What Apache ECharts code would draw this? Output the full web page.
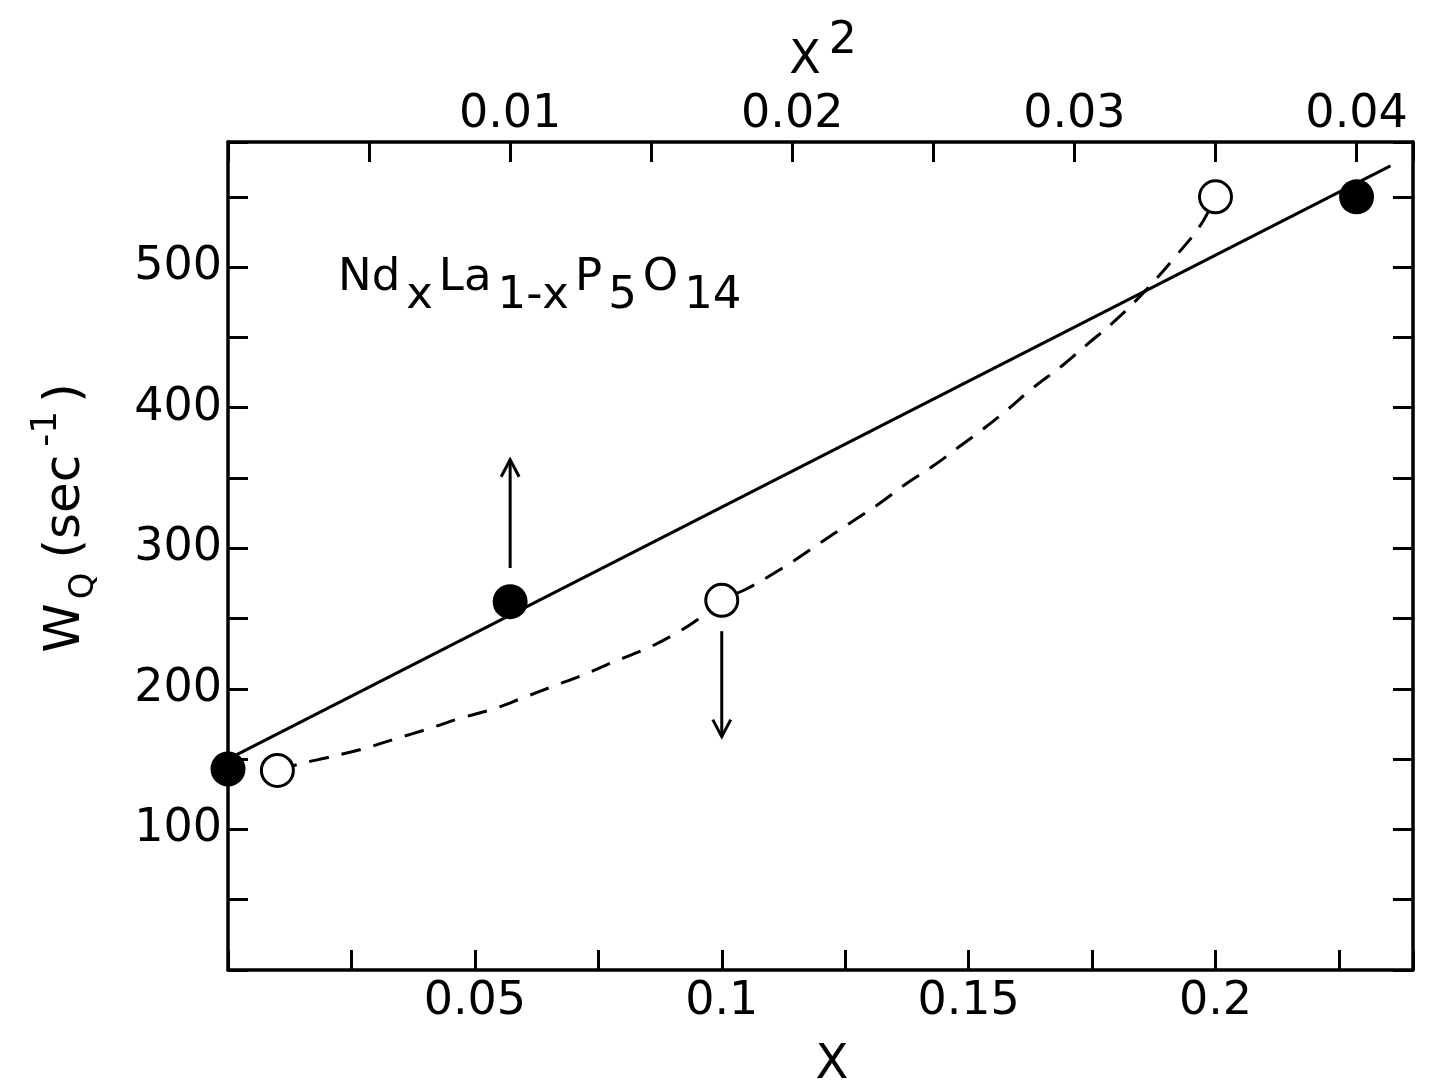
<!DOCTYPE html>
<html>
<head>
<meta charset="utf-8">
<script src="https://cdn.jsdelivr.net/npm/echarts@6/dist/echarts.min.js"></script>
<style>
html, body { margin: 0; padding: 0; background: #fff; }
#chart { width: 1437px; height: 1087px; }
</style>
</head>
<body>
<div id="chart"></div>
<script>
// filled circles: W_Q against x^2 (top axis)
const filledX2 = [0, 0.01, 0.04]
const filledW = [143, 262, 550]
// open circles: W_Q against x (bottom axis)
const openX = [0.01, 0.1, 0.2]
const openW = [142, 263, 550]
// straight line through the filled points
const fitX2 = [0, 0.0412]
const fitW = [150, 572]
// dashed guide through the open points
const dashX = [0.01, 0.015, 0.02, 0.027, 0.034, 0.0405, 0.047, 0.054, 0.06, 0.066, 0.072, 0.078, 0.085, 0.09, 0.095, 0.1,
  0.105, 0.11, 0.115, 0.12, 0.126, 0.132, 0.137, 0.143, 0.148, 0.153, 0.158, 0.163, 0.169, 0.174, 0.18, 0.186, 0.192, 0.197, 0.2]
const dashW = [142, 147, 151, 157, 164.5, 171.5, 179, 186, 194, 202, 210, 219, 229, 238, 249, 263,
  271, 281, 292, 304, 318, 332, 345, 359, 372, 385, 399, 414, 430, 445, 463, 484, 508, 530, 550]
// arrows telling which axis each set belongs to: [x, from, to]
const arrowUp = [0.01, 286, 363]
const arrowDown = [0.1, 241, 166]

// tick labels
const xTickLabels = ['0.05', '0.1', '0.15', '0.2']
const x2TickLabels = ['0.01', '0.02', '0.03', '0.04']
const yTickLabels = ['100', '200', '300', '400', '500']

const FONT = 'DejaVu Sans'
const INK = '#000'

const pick = (labels) => (v) => {
  const hit = labels.find(l => Math.abs(Number(l) - v) < 1e-9)
  return hit || ''
}
const zip = (a, b) => a.map((v, i) => [v, b[i]])

const axisBase = {
  type: 'value',
  min: 0,
  splitLine: { show: false },
  axisLine: { show: true, onZero: false, lineStyle: { color: INK, width: 3.5 } },
  axisTick: { show: true, inside: true, length: 20, lineStyle: { color: INK, width: 3 } }
}

function renderArrow(params, api) {
  const p0 = api.coord([api.value(0), api.value(1)])
  const p1 = api.coord([api.value(0), api.value(2)])
  const dir = p1[1] < p0[1] ? 1 : -1
  const style = { stroke: INK, lineWidth: 3, fill: null }
  return {
    type: 'group',
    children: [
      { type: 'line', shape: { x1: p0[0], y1: p0[1], x2: p1[0], y2: p1[1] }, style: style },
      { type: 'polyline', shape: { points: [[p1[0] - 9, p1[1] + dir * 17], [p1[0], p1[1]], [p1[0] + 9, p1[1] + dir * 17]] }, style: style }
    ]
  }
}

const chart = echarts.init(document.getElementById('chart'))
chart.setOption({
  animation: false,
  backgroundColor: '#fff',
  grid: { left: 228, right: 24, top: 142, bottom: 117 },
  xAxis: [
    Object.assign({}, axisBase, {
      position: 'bottom', max: 0.24, interval: 0.025,
      axisLabel: { formatter: pick(xTickLabels), color: INK, fontFamily: FONT, fontSize: 46, margin: 9 }
    }),
    Object.assign({}, axisBase, {
      position: 'top', max: 0.042, interval: 0.005,
      axisLabel: { formatter: pick(x2TickLabels), color: INK, fontFamily: FONT, fontSize: 46, margin: 4 }
    })
  ],
  yAxis: [
    Object.assign({}, axisBase, {
      position: 'left', max: 589, interval: 50,
      axisLabel: { formatter: pick(yTickLabels), color: INK, fontFamily: FONT, fontSize: 46, margin: 6 }
    }),
    Object.assign({}, axisBase, {
      position: 'right', max: 589, interval: 50,
      axisLabel: { show: false }
    })
  ],
  graphic: [
    {
      type: 'text', left: 335, top: 256, z: 10,
      style: {
        text: '{m|Nd}{s|x}{m|La}{s|1-x}{m|P}{s|5}{m|O}{s|14}',
        rich: {
          m: { fontFamily: FONT, fontSize: 45, lineHeight: 48, verticalAlign: 'top', padding: [0, 3, 0, 3], fill: INK },
          s: { fontFamily: FONT, fontSize: 45, lineHeight: 48, verticalAlign: 'top', padding: [18, 3, 0, 3], fill: INK }
        }
      }
    },
    {
      type: 'text', x: 55, y: 518, rotation: Math.PI / 2, z: 10,
      style: {
        text: '{m|W}{s|Q}{g|(sec}{p|-1}{m|)}',
        align: 'center', verticalAlign: 'middle',
        rich: {
          m: { fontFamily: FONT, fontSize: 50, lineHeight: 52, verticalAlign: 'top', padding: [12, 4, 0, 4], fill: INK },
          g: { fontFamily: FONT, fontSize: 50, lineHeight: 52, verticalAlign: 'top', padding: [12, 4, 0, 14], fill: INK },
          s: { fontFamily: FONT, fontSize: 34, lineHeight: 36, verticalAlign: 'top', padding: [38, 0, 0, 0], fill: INK },
          p: { fontFamily: FONT, fontSize: 36, lineHeight: 38, verticalAlign: 'top', padding: [0, 4, 0, 4], fill: INK }
        }
      }
    },
    {
      type: 'text', x: 823, y: 44, z: 10,
      style: {
        text: '{m|X}{p|2}',
        align: 'center', verticalAlign: 'middle',
        rich: {
          m: { fontFamily: FONT, fontSize: 46, lineHeight: 48, verticalAlign: 'top', padding: [18, 0, 0, 0], fill: INK },
          p: { fontFamily: FONT, fontSize: 44, lineHeight: 46, verticalAlign: 'top', padding: [0, 0, 0, 8], fill: INK }
        }
      }
    },
    {
      type: 'text', x: 832, y: 1066, z: 10,
      style: { text: 'X', fontFamily: FONT, fontSize: 48, fill: INK, align: 'center', verticalAlign: 'middle' }
    }
  ],
  series: [
    {
      name: 'fit', type: 'line', xAxisIndex: 1, yAxisIndex: 0,
      data: zip(fitX2, fitW), symbol: 'none', z: 2,
      lineStyle: { color: INK, width: 3 }
    },
    {
      name: 'guide', type: 'line', xAxisIndex: 0, yAxisIndex: 0,
      data: zip(dashX, dashW), symbol: 'none', smooth: 0.4, z: 2,
      lineStyle: { color: INK, width: 3, type: [20, 13] }
    },
    {
      name: 'open', type: 'scatter', xAxisIndex: 0, yAxisIndex: 0,
      data: zip(openX, openW), symbol: 'circle', symbolSize: 32, z: 5,
      itemStyle: { color: '#fff', borderColor: INK, borderWidth: 3, opacity: 1 }
    },
    {
      name: 'filled', type: 'scatter', xAxisIndex: 1, yAxisIndex: 0,
      data: zip(filledX2, filledW), symbol: 'circle', symbolSize: 35, z: 5, clip: false,
      itemStyle: { color: INK, opacity: 1 }
    },
    {
      name: 'arrowUp', type: 'custom', xAxisIndex: 1, yAxisIndex: 0,
      data: [arrowUp], renderItem: renderArrow, encode: { x: 0, y: [1, 2] }, z: 4
    },
    {
      name: 'arrowDown', type: 'custom', xAxisIndex: 0, yAxisIndex: 0,
      data: [arrowDown], renderItem: renderArrow, encode: { x: 0, y: [1, 2] }, z: 4
    }
  ]
})

window.addEventListener('resize', () => chart.resize())
</script>
</body>
</html>
